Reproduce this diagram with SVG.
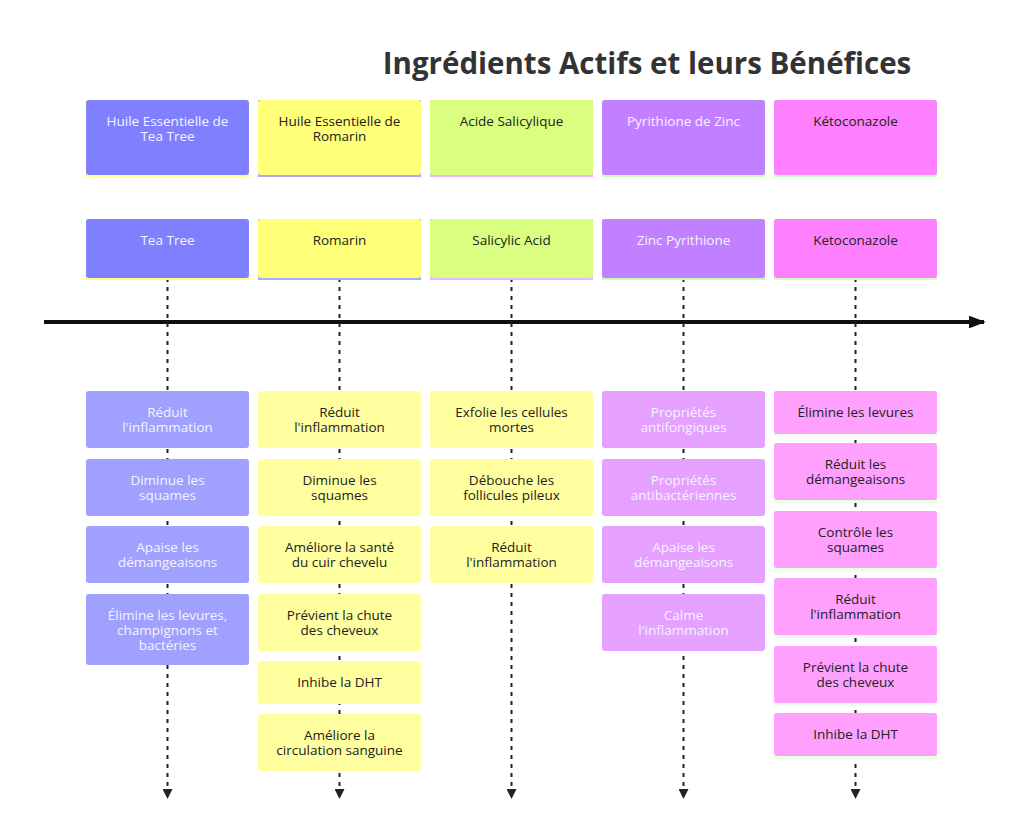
<svg xmlns="http://www.w3.org/2000/svg" width="1024" height="840" viewBox="0 0 1024 840">
<style>
text{font-family:"Open Sans","Noto Sans",sans-serif;font-size:13.5px;text-anchor:middle}
.w{fill:#f4f4ff}.d{fill:#222}
.t{font-size:29.5px;font-weight:bold;fill:#333}
.dl{stroke:#222;stroke-width:2;stroke-dasharray:4 5;fill:none}
</style>
<defs>
<marker id="a" viewBox="0 0 10 10" refX="9" refY="5" markerWidth="5" markerHeight="5" orient="auto"><path d="M0,0L10,5L0,10z" fill="#222"/></marker>
<marker id="b" viewBox="0 0 10 10" refX="9" refY="5" markerWidth="4.2" markerHeight="3.2" orient="auto" preserveAspectRatio="none"><path d="M0,0L10,5L0,10z" fill="#111"/></marker>
</defs>
<rect width="1024" height="840" fill="#fff"/>
<text class="t" x="647" y="74">Ingrédients Actifs et leurs Bénéfices</text>
<g id="connectors">
<line x1="44" y1="322" x2="984" y2="322" stroke="#111" stroke-width="4" marker-end="url(#b)"/>
<line class="dl" x1="167.5" y1="278" x2="167.5" y2="798" marker-end="url(#a)"/>
<line class="dl" x1="339.5" y1="278" x2="339.5" y2="798" marker-end="url(#a)"/>
<line class="dl" x1="511.5" y1="278" x2="511.5" y2="798" marker-end="url(#a)"/>
<line class="dl" x1="683.5" y1="278" x2="683.5" y2="798" marker-end="url(#a)"/>
<line class="dl" x1="855.5" y1="278" x2="855.5" y2="798" marker-end="url(#a)"/>
</g>
<g id="col1">
<rect x="86" y="100" width="163" height="77" fill="#ffff80"/><rect x="86" y="100" width="163" height="75" rx="3" fill="#8080ff"/>
<text class="w" x="167.5" y="126">Huile Essentielle de</text><text class="w" x="167.5" y="141">Tea Tree</text>
<rect x="86" y="219" width="163" height="61" fill="#ffff80"/><rect x="86" y="219" width="163" height="59" rx="3" fill="#8080ff"/>
<text class="w" x="167.5" y="245">Tea Tree</text>
<g fill="#a0a0ff"><rect x="86" y="391" width="163" height="57" rx="3"/><rect x="86" y="459" width="163" height="57" rx="3"/><rect x="86" y="526" width="163" height="57" rx="3"/><rect x="86" y="594" width="163" height="71" rx="3"/></g>
<text class="w" x="167.5" y="417">Réduit</text><text class="w" x="167.5" y="432">l'inflammation</text>
<text class="w" x="167.5" y="485">Diminue les</text><text class="w" x="167.5" y="500">squames</text>
<text class="w" x="167.5" y="552">Apaise les</text><text class="w" x="167.5" y="567">démangeaisons</text>
<text class="w" x="167.5" y="620">Élimine les levures,</text><text class="w" x="167.5" y="635">champignons et</text><text class="w" x="167.5" y="650">bactéries</text>
</g>
<g id="col2">
<rect x="258" y="100" width="163" height="77" fill="#a8a8ff"/><rect x="258" y="100" width="163" height="75" rx="3" fill="#ffff78"/>
<text class="d" x="339.5" y="126">Huile Essentielle de</text><text class="d" x="339.5" y="141">Romarin</text>
<rect x="258" y="219" width="163" height="61" fill="#a8a8ff"/><rect x="258" y="219" width="163" height="59" rx="3" fill="#ffff78"/>
<text class="d" x="339.5" y="245">Romarin</text>
<g fill="#ffffa0"><rect x="258" y="391" width="163" height="57" rx="3"/><rect x="258" y="459" width="163" height="57" rx="3"/><rect x="258" y="526" width="163" height="57" rx="3"/><rect x="258" y="594" width="163" height="57" rx="3"/><rect x="258" y="661" width="163" height="43" rx="3"/><rect x="258" y="714" width="163" height="57" rx="3"/></g>
<text class="d" x="339.5" y="417">Réduit</text><text class="d" x="339.5" y="432">l'inflammation</text>
<text class="d" x="339.5" y="485">Diminue les</text><text class="d" x="339.5" y="500">squames</text>
<text class="d" x="339.5" y="552">Améliore la santé</text><text class="d" x="339.5" y="567">du cuir chevelu</text>
<text class="d" x="339.5" y="620">Prévient la chute</text><text class="d" x="339.5" y="635">des cheveux</text>
<text class="d" x="339.5" y="687">Inhibe la DHT</text>
<text class="d" x="339.5" y="740">Améliore la</text><text class="d" x="339.5" y="755">circulation sanguine</text>
</g>
<g id="col3">
<rect x="430" y="100" width="163" height="77" fill="#e8b8ff"/><rect x="430" y="100" width="163" height="75" rx="3" fill="#daff80"/>
<text class="d" x="511.5" y="126">Acide Salicylique</text>
<rect x="430" y="219" width="163" height="61" fill="#e8b8ff"/><rect x="430" y="219" width="163" height="59" rx="3" fill="#daff80"/>
<text class="d" x="511.5" y="245">Salicylic Acid</text>
<g fill="#ffffa0"><rect x="430" y="391" width="163" height="57" rx="3"/><rect x="430" y="459" width="163" height="57" rx="3"/><rect x="430" y="526" width="163" height="57" rx="3"/></g>
<text class="d" x="511.5" y="417">Exfolie les cellules</text><text class="d" x="511.5" y="432">mortes</text>
<text class="d" x="511.5" y="485">Débouche les</text><text class="d" x="511.5" y="500">follicules pileux</text>
<text class="d" x="511.5" y="552">Réduit</text><text class="d" x="511.5" y="567">l'inflammation</text>
</g>
<g id="col4">
<rect x="602" y="100" width="163" height="77" fill="#c8ffb8"/><rect x="602" y="100" width="163" height="75" rx="3" fill="#c080ff"/>
<text class="w" x="683.5" y="126">Pyrithione de Zinc</text>
<rect x="602" y="219" width="163" height="61" fill="#c8ffb8"/><rect x="602" y="219" width="163" height="59" rx="3" fill="#c080ff"/>
<text class="w" x="683.5" y="245">Zinc Pyrithione</text>
<g fill="#e6a0ff"><rect x="602" y="391" width="163" height="57" rx="3"/><rect x="602" y="459" width="163" height="57" rx="3"/><rect x="602" y="526" width="163" height="57" rx="3"/><rect x="602" y="594" width="163" height="57" rx="3"/></g>
<text class="w" x="683.5" y="417">Propriétés</text><text class="w" x="683.5" y="432">antifongiques</text>
<text class="w" x="683.5" y="485">Propriétés</text><text class="w" x="683.5" y="500">antibactériennes</text>
<text class="w" x="683.5" y="552">Apaise les</text><text class="w" x="683.5" y="567">démangeaisons</text>
<text class="w" x="683.5" y="620">Calme</text><text class="w" x="683.5" y="635">l'inflammation</text>
</g>
<g id="col5">
<rect x="774" y="100" width="163" height="77" fill="#c8ffc8"/><rect x="774" y="100" width="163" height="75" rx="3" fill="#ff80ff"/>
<text class="d" x="855.5" y="126">Kétoconazole</text>
<rect x="774" y="219" width="163" height="61" fill="#c8ffc8"/><rect x="774" y="219" width="163" height="59" rx="3" fill="#ff80ff"/>
<text class="d" x="855.5" y="245">Ketoconazole</text>
<g fill="#e6ffe6"><rect x="774" y="391" width="163" height="45"/><rect x="774" y="443" width="163" height="60"/><rect x="774" y="511" width="163" height="60"/><rect x="774" y="578" width="163" height="60"/><rect x="774" y="646" width="163" height="60"/><rect x="774" y="713" width="163" height="46"/></g>
<g fill="#ffa0ff"><rect x="774" y="391" width="163" height="43" rx="3"/><rect x="774" y="443" width="163" height="57" rx="3"/><rect x="774" y="511" width="163" height="57" rx="3"/><rect x="774" y="578" width="163" height="57" rx="3"/><rect x="774" y="646" width="163" height="57" rx="3"/><rect x="774" y="713" width="163" height="43" rx="3"/></g>
<text class="d" x="855.5" y="417">Élimine les levures</text>
<text class="d" x="855.5" y="469">Réduit les</text><text class="d" x="855.5" y="484">démangeaisons</text>
<text class="d" x="855.5" y="537">Contrôle les</text><text class="d" x="855.5" y="552">squames</text>
<text class="d" x="855.5" y="604">Réduit</text><text class="d" x="855.5" y="619">l'inflammation</text>
<text class="d" x="855.5" y="672">Prévient la chute</text><text class="d" x="855.5" y="687">des cheveux</text>
<text class="d" x="855.5" y="739">Inhibe la DHT</text>
</g>
</svg>
